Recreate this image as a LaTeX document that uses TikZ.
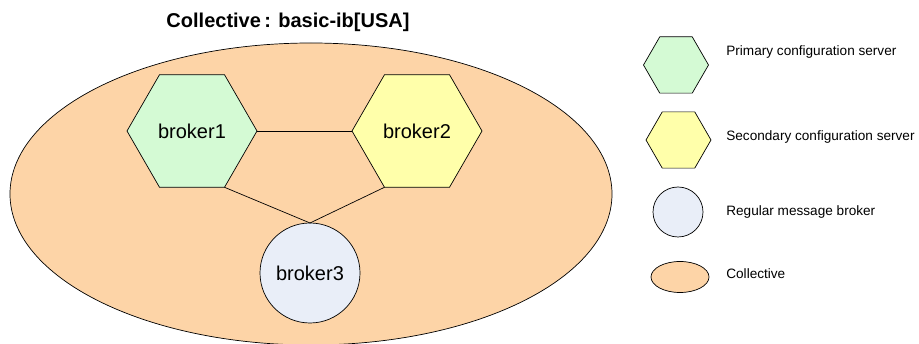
\documentclass[tikz,border=0pt]{standalone}
\usepackage{fontspec}
\setmainfont{Liberation Sans}
\usetikzlibrary{shapes.geometric}
\definecolor{peach}{HTML}{FDD4A7}
\definecolor{pgreen}{HTML}{D4FAD4}
\definecolor{pyellow}{HTML}{FFFFAA}
\definecolor{pblue}{HTML}{E9EEF8}
\begin{document}
\begin{tikzpicture}[x=1pt,y=-1pt,line width=0.7pt,
  hexbox/.style={regular polygon,regular polygon sides=6,draw=black,inner sep=0pt,outer sep=0pt,minimum size=#1},
  circbox/.style={circle,draw=black,fill=pblue,inner sep=0pt,outer sep=0pt,minimum size=#1},
  collbox/.style={ellipse,draw=black,fill=peach,inner sep=0pt,outer sep=0pt},
  brokertext/.style={font=\fontsize{20}{23}\selectfont},
  legtext/.style={anchor=west,font=\fontsize{13.6}{16}\selectfont,inner sep=0pt},
  link/.style={draw=black,line width=0.7pt}]
\useasboundingbox (0,0) rectangle (919,344);
\node[collbox,minimum width=602pt,minimum height=302pt] (coll) at (311,194) {};
\node[font=\bfseries\fontsize{20}{23}\selectfont] (title) at (288,22) {Collective\,: basic-ib[USA]};
\node[hexbox=130pt,fill=pgreen,brokertext] (b1) at (192,131) {broker1};
\node[hexbox=130pt,fill=pyellow,brokertext] (b2) at (417,131) {broker2};
\node[circbox=100pt,brokertext] (b3) at (310,273) {broker3};
\draw[link] (b1.east) -- (b2.west);
\draw[link] (b1.-60) -- (b3.north);
\draw[link] (b2.240) -- (b3.north);
% legend
\node[hexbox=65pt,fill=pgreen] (l1) at (676,65) {};
\node[legtext] (t1) at (726,52) {Primary configuration server};
\node[hexbox=65pt,fill=pyellow] (l2) at (678.5,140) {};
\node[legtext] (t2) at (726,137) {Secondary configuration server};
\node[circbox=50pt] (l3) at (678,212) {};
\node[legtext] (t3) at (726,212) {Regular message broker};
\node[collbox,minimum width=58pt,minimum height=31pt] (l4) at (680,277) {};
\node[legtext] (t4) at (726,274) {Collective};
\end{tikzpicture}
\end{document}
